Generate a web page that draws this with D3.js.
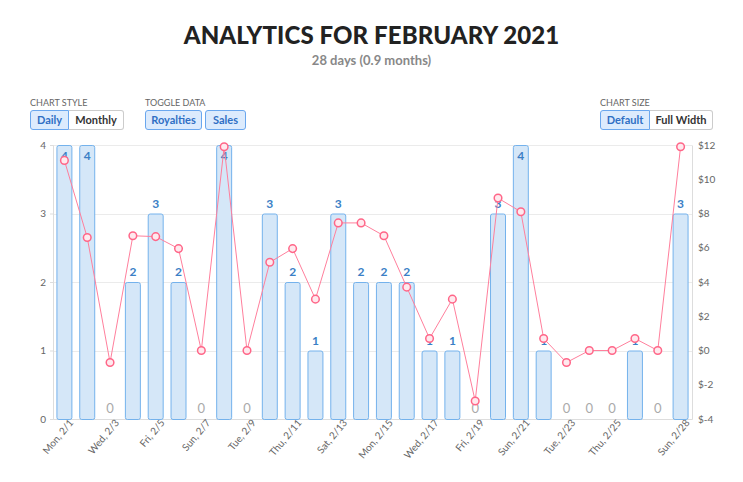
<!DOCTYPE html>
<html>
<head>
<meta charset="utf-8">
<script src="https://cdn.jsdelivr.net/npm/d3@7"></script>
<style>
  body { margin: 0; background: #fff; font-family: Lato, "Open Sans", sans-serif; }
  #wrap { position: relative; width: 743px; height: 482px; overflow: hidden; }
  .title { position: absolute; left: 0; width: 743px; top: 20px; text-align: center;
           font-family: Lato, sans-serif; font-weight: 900; font-size: 24px; color: #222; letter-spacing: 0.1px; }
  .sub { position: absolute; left: 0; width: 743px; top: 52px; text-align: center;
         font-family: Lato, sans-serif; font-weight: 700; font-size: 13px; color: #888; }
  .ctl-label { position: absolute; font-size: 9px; color: #666; top: 97px; }
  .grp { position: absolute; top: 110px; height: 20px; display: flex; }
  .btn { box-sizing: border-box; height: 20px; line-height: 18px; font-size: 11px; font-weight: 700;
         padding: 0; text-align: center; white-space: nowrap;
         border: 1px solid #ccc; color: #333; background: #fff; }
  .btn.on { background: #dcebfd; border-color: #6aa7ee; color: #2f6fc4; }
  .btn.l { border-radius: 3px 0 0 3px; }
  .btn.r { border-radius: 0 3px 3px 0; border-left: none; }
  .btn.solo { border-radius: 3px; }
  svg { position: absolute; left: 0; top: 0; }
</style>
</head>
<body>
<div id="wrap">
  <div class="title">ANALYTICS FOR FEBRUARY 2021</div>
  <div class="sub">28 days (0.9 months)</div>

  <div class="ctl-label" style="left:30px">CHART STYLE</div>
  <div class="grp" style="left:30px">
    <div class="btn on l" style="width:39px">Daily</div>
    <div class="btn r" style="width:55px">Monthly</div>
  </div>

  <div class="ctl-label" style="left:145px">TOGGLE DATA</div>
  <div class="grp" style="left:145px">
    <div class="btn on solo" style="width:57px">Royalties</div>
    <div class="btn on solo" style="width:41px; margin-left:3px">Sales</div>
  </div>

  <div class="ctl-label" style="left:600px">CHART SIZE</div>
  <div class="grp" style="left:600px">
    <div class="btn on l" style="width:50px">Default</div>
    <div class="btn r" style="width:63px">Full Width</div>
  </div>
</div>
<script>
// days of february 2021
var days = ["Mon, 2/1","Tue, 2/2","Wed, 2/3","Thu, 2/4","Fri, 2/5","Sat, 2/6","Sun, 2/7",
            "Mon, 2/8","Tue, 2/9","Wed, 2/10","Thu, 2/11","Fri, 2/12","Sat, 2/13","Sun, 2/14",
            "Mon, 2/15","Tue, 2/16","Wed, 2/17","Thu, 2/18","Fri, 2/19","Sat, 2/20","Sun, 2/21",
            "Mon, 2/22","Tue, 2/23","Wed, 2/24","Thu, 2/25","Fri, 2/26","Sat, 2/27","Sun, 2/28"];

// units sold per day (bars, left axis)
var sales = [4,4,0,2,3,2,0,4,0,3,2,1,3,2,2,2,1,1,0,3,4,1,0,0,0,1,0,3];

// royalties per day in $ (line, right axis)
var royalties = [11.1,6.6,-0.7,6.7,6.65,5.95,0,11.9,0,5.15,5.95,3.0,7.45,7.45,6.7,3.7,0.7,3.0,-2.95,8.9,8.1,0.7,-0.7,0,0,0.7,0,11.9];

// which x labels are shown
var shownLabels = ["Mon, 2/1","Wed, 2/3","Fri, 2/5","Sun, 2/7","Tue, 2/9","Thu, 2/11","Sat, 2/13",
                   "Mon, 2/15","Wed, 2/17","Fri, 2/19","Sun, 2/21","Tue, 2/23","Thu, 2/25","Sun, 2/28"];

var leftTicks = [0,1,2,3,4];
var rightTicks = [-4,-2,0,2,4,6,8,10,12];

var plot = {left: 53, right: 692, top: 145, bottom: 419};

var svg = d3.select("#wrap").append("svg")
    .attr("width", 743)
    .attr("height", 482);

var x = d3.scaleBand()
    .domain(days)
    .range([plot.left, plot.right])
    .paddingInner(0.3)
    .paddingOuter(0.15);

var yL = d3.scaleLinear().domain([0, 4]).range([plot.bottom, plot.top]);
var yR = d3.scaleLinear().domain([-4, 12]).range([plot.bottom, plot.top]);

// grid lines
svg.append("g")
    .selectAll("line")
    .data(leftTicks)
    .enter().append("line")
    .attr("x1", plot.left)
    .attr("x2", plot.right)
    .attr("y1", function(d){ return Math.round(yL(d)) + 0.5; })
    .attr("y2", function(d){ return Math.round(yL(d)) + 0.5; })
    .attr("stroke", "#ebebeb");

// left axis
var leftAxis = svg.append("g")
    .attr("transform", "translate(" + plot.left + ",0)")
    .call(d3.axisLeft(yL).tickValues(leftTicks).tickFormat(d3.format("d")).tickSize(3).tickPadding(4));
leftAxis.select(".domain").attr("stroke", "#ddd");
leftAxis.selectAll(".tick line").attr("stroke", "#ddd");
leftAxis.selectAll("text").attr("fill", "#666").style("font-size", "10px").style("font-family", "Lato, sans-serif");

// right axis
var rightAxis = svg.append("g")
    .attr("transform", "translate(" + plot.right + ",0)")
    .call(d3.axisRight(yR).tickValues(rightTicks).tickFormat(function(d){ return "$" + d; }).tickSize(0).tickPadding(6));
rightAxis.select(".domain").attr("stroke", "#ddd");
rightAxis.selectAll("text").attr("fill", "#666").style("font-size", "10px").style("font-family", "Lato, sans-serif");

// bottom axis
var bottomAxis = svg.append("g")
    .attr("transform", "translate(0," + plot.bottom + ")")
    .call(d3.axisBottom(x).tickValues(shownLabels).tickSize(0).tickPadding(7));
bottomAxis.select(".domain").attr("stroke", "#ddd");
bottomAxis.selectAll("text")
    .attr("fill", "#666")
    .style("font-size", "10px")
    .style("font-family", "Lato, sans-serif")
    .style("text-anchor", "end")
    .attr("dx", "3")
    .attr("dy", "3")
    .attr("transform", "rotate(-50)");

// bars
var dayData = days.map(function(d, i){ return {day: d, sales: sales[i], royalty: royalties[i]}; });

svg.append("g")
    .selectAll("rect")
    .data(dayData.filter(function(d){ return d.sales > 0; }))
    .enter().append("rect")
    .attr("x", function(d){ return x(d.day) + 0.5; })
    .attr("y", function(d){ return yL(d.sales) + 0.5; })
    .attr("width", x.bandwidth() - 1)
    .attr("height", function(d){ return plot.bottom - yL(d.sales); })
    .attr("rx", 2)
    .attr("fill", "#d5e7f8")
    .attr("stroke", "#74b2ec")
    .attr("stroke-width", 1);

// bar labels
svg.append("g")
    .selectAll("text")
    .data(dayData)
    .enter().append("text")
    .attr("x", function(d){ return x(d.day) + x.bandwidth() / 2; })
    .attr("y", function(d){
        if (d.sales == 0) return plot.bottom - 6;
        return Math.max(yL(d.sales) - 6, plot.top + 15);
    })
    .attr("text-anchor", "middle")
    .style("font-family", "Lato, sans-serif")
    .style("font-size", function(d){ return d.sales == 0 ? "13px" : "12px"; })
    .style("font-weight", function(d){ return d.sales == 0 ? 400 : 700; })
    .attr("fill", function(d){ return d.sales == 0 ? "#aaa" : "#3b7fc6"; })
    .text(function(d){ return d.sales; });

// royalty line
var line = d3.line()
    .x(function(d){ return x(d.day) + x.bandwidth() / 2; })
    .y(function(d){ return yR(d.royalty); });

svg.append("path")
    .datum(dayData)
    .attr("d", line)
    .attr("fill", "none")
    .attr("stroke", "#ff7f9c")
    .attr("stroke-width", 1);

svg.append("g")
    .selectAll("circle")
    .data(dayData)
    .enter().append("circle")
    .attr("cx", function(d){ return x(d.day) + x.bandwidth() / 2; })
    .attr("cy", function(d){ return yR(d.royalty); })
    .attr("r", 3.8)
    .attr("fill", "#ffe9ee")
    .attr("stroke", "#ff6688")
    .attr("stroke-width", 1.5);
</script>
</body>
</html>
